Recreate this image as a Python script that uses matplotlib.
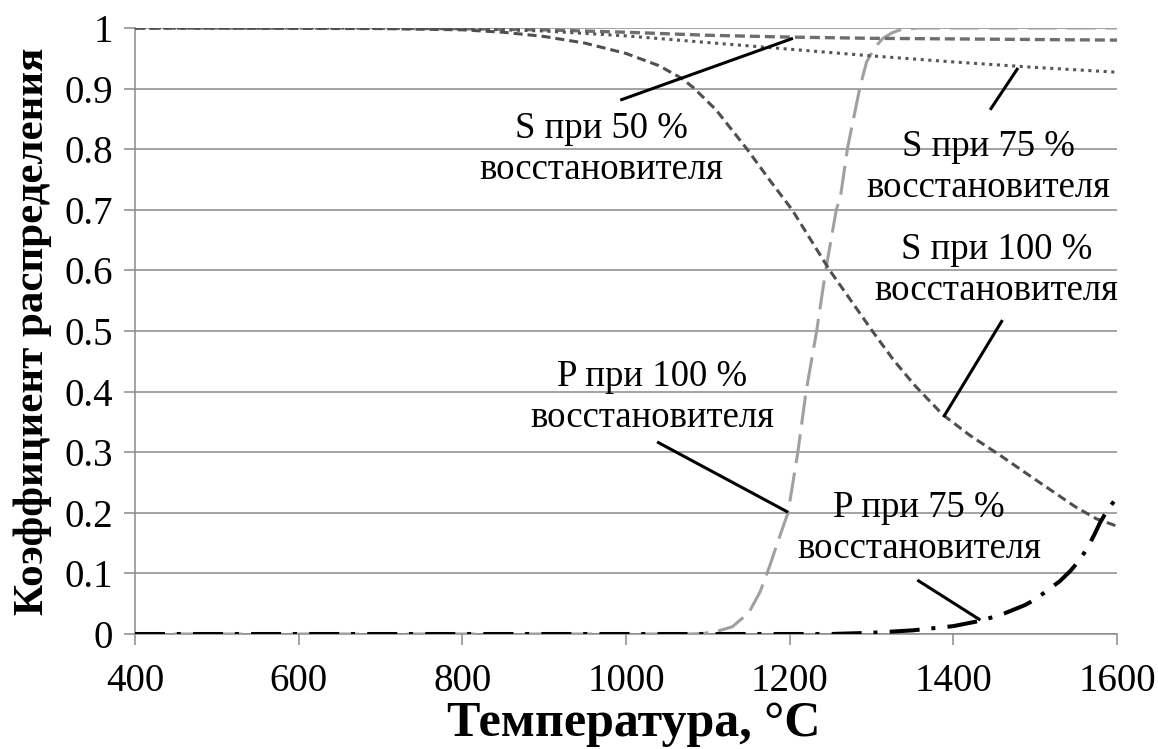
import matplotlib
matplotlib.use("Agg")
import matplotlib.pyplot as plt

plt.rcParams['font.family'] = 'serif'
plt.rcParams['font.serif'] = ['Liberation Serif']
plt.rcParams['lines.scale_dashes'] = False

# Distribution coefficients versus temperature
t_s50 = [400, 600, 800, 900, 1000, 1100, 1200, 1300, 1400, 1500, 1600]
s50 = [1.0, 1.0, 0.999, 0.997, 0.993, 0.988, 0.985, 0.983, 0.982, 0.981, 0.980]

t_s75 = [400, 600, 800, 900, 1000, 1100, 1200, 1300, 1400, 1500, 1600]
s75 = [1.0, 1.0, 0.999, 0.995, 0.987, 0.976, 0.965, 0.954, 0.944, 0.935, 0.927]

t_s100 = [400, 700, 800, 850, 900, 950, 1000, 1040, 1068, 1082, 1110, 1148,
          1175, 1203, 1226, 1249, 1275, 1301, 1327, 1353, 1387, 1420, 1457,
          1500, 1549, 1575, 1600]
s100 = [1.0, 0.999, 0.997, 0.993, 0.986, 0.975, 0.958, 0.938, 0.917, 0.902,
        0.865, 0.800, 0.750, 0.700, 0.650, 0.600, 0.550, 0.500, 0.452, 0.410,
        0.362, 0.328, 0.295, 0.255, 0.210, 0.190, 0.178]

t_p100 = [400, 1080, 1095, 1110, 1130, 1150, 1164, 1175, 1185, 1194, 1198,
          1210, 1220, 1233, 1244, 1257, 1262, 1271, 1286, 1294, 1304, 1314,
          1325, 1335, 1356, 1600]
p100 = [0.0, 0.0, 0.001, 0.004, 0.012, 0.035, 0.07, 0.11, 0.15, 0.185, 0.2,
        0.3, 0.4, 0.5, 0.6, 0.7, 0.721, 0.804, 0.903, 0.944, 0.968, 0.983,
        0.992, 0.997, 1.0, 1.0]

t_p75 = [400, 1250, 1300, 1350, 1400, 1430, 1457, 1488, 1501, 1516, 1530,
         1543, 1553, 1563, 1572, 1579, 1585, 1590, 1600]
p75 = [0.0, 0.0, 0.002, 0.006, 0.013, 0.021, 0.031, 0.048, 0.058, 0.073,
       0.087, 0.104, 0.120, 0.140, 0.163, 0.183, 0.197, 0.208, 0.225]

x_ticks = [400, 600, 800, 1000, 1200, 1400, 1600]
y_ticks = [0, 0.1, 0.2, 0.3, 0.4, 0.5, 0.6, 0.7, 0.8, 0.9, 1.0]
y_tick_labels = ['0', '0.1', '0.2', '0.3', '0.4', '0.5', '0.6', '0.7', '0.8', '0.9', '1']

# Callout captions with leader lines (start near caption, end on the curve)
labels = ["S при 50 %\nвосстановителя",
          "S при 75 %\nвосстановителя",
          "S при 100 %\nвосстановителя",
          "P при 100 %\nвосстановителя",
          "P при 75 %\nвосстановителя"]
label_xy = [(970, 0.800), (1443, 0.770), (1453, 0.600), (1032, 0.390), (1358, 0.175)]
lead_from = [(993, 0.881), (1445, 0.865), (1460, 0.518), (1038, 0.317), (1356, 0.089)]
lead_to = [(1204, 0.983), (1479, 0.934), (1388, 0.358), (1198, 0.201), (1433, 0.023)]

W, H = 1158, 749
fig = plt.figure(figsize=(W / 100, H / 100), dpi=100)
ax = fig.add_axes([135 / W, 1 - 634 / H, (1117 - 135) / W, (634 - 28) / H])

grid_c = '#8a8a8a'
for y in y_ticks:
    ax.axhline(y, color=grid_c, lw=1.1, zorder=1)

ax.plot(t_p100, p100, color='#a0a0a0', lw=2.2, dashes=(21, 7), zorder=3)
ax.plot(t_s50, s50, color='#6e6e6e', lw=2.4, dashes=(7.2, 3.6), zorder=4)
ax.plot(t_s75, s75, color='#555555', lw=2.2, dashes=(2.2, 3.3), zorder=4)
ax.plot(t_s100, s100, color='#4f4f4f', lw=2.2, dashes=(6.5, 3.6), zorder=4)
ax.plot(t_p75, p75, color='black', lw=2.9, dashes=(21.6, 8.5, 2.9, 8.8), zorder=5)

for txt, (tx, ty), (x0, y0), (x1, y1) in zip(labels, label_xy, lead_from, lead_to):
    ax.text(tx, ty, txt, ha='center', va='center', fontsize=26.5,
            linespacing=1.25, zorder=6)
    ax.plot([x0, x1], [y0, y1], color='black', lw=2.2, zorder=6,
            solid_capstyle='butt')

ax.set_xlim(400, 1600)
ax.set_ylim(0, 1)
ax.set_xticks(x_ticks)
ax.set_yticks(y_ticks)
ax.set_yticklabels(y_tick_labels)
ax.tick_params(axis='both', direction='out', length=8, width=1.1,
               color=grid_c, labelsize=28)
ax.tick_params(axis='x', pad=13)
ax.tick_params(axis='y', pad=8)
for side in ('top', 'right'):
    ax.spines[side].set_visible(False)
for side in ('left', 'bottom'):
    ax.spines[side].set_color(grid_c)
    ax.spines[side].set_linewidth(1.1)

ax.set_xlabel('Температура, °C', fontsize=36, fontweight='bold', va='center')
ax.xaxis.set_label_coords(0.508, (634 - 724) / 606)
ax.set_ylabel('Коэффициент распределения', fontsize=31, fontweight='bold', va='center')
ax.yaxis.set_label_coords((33 - 135) / 982, 0.5)

fig.savefig('out.png', dpi=100)
